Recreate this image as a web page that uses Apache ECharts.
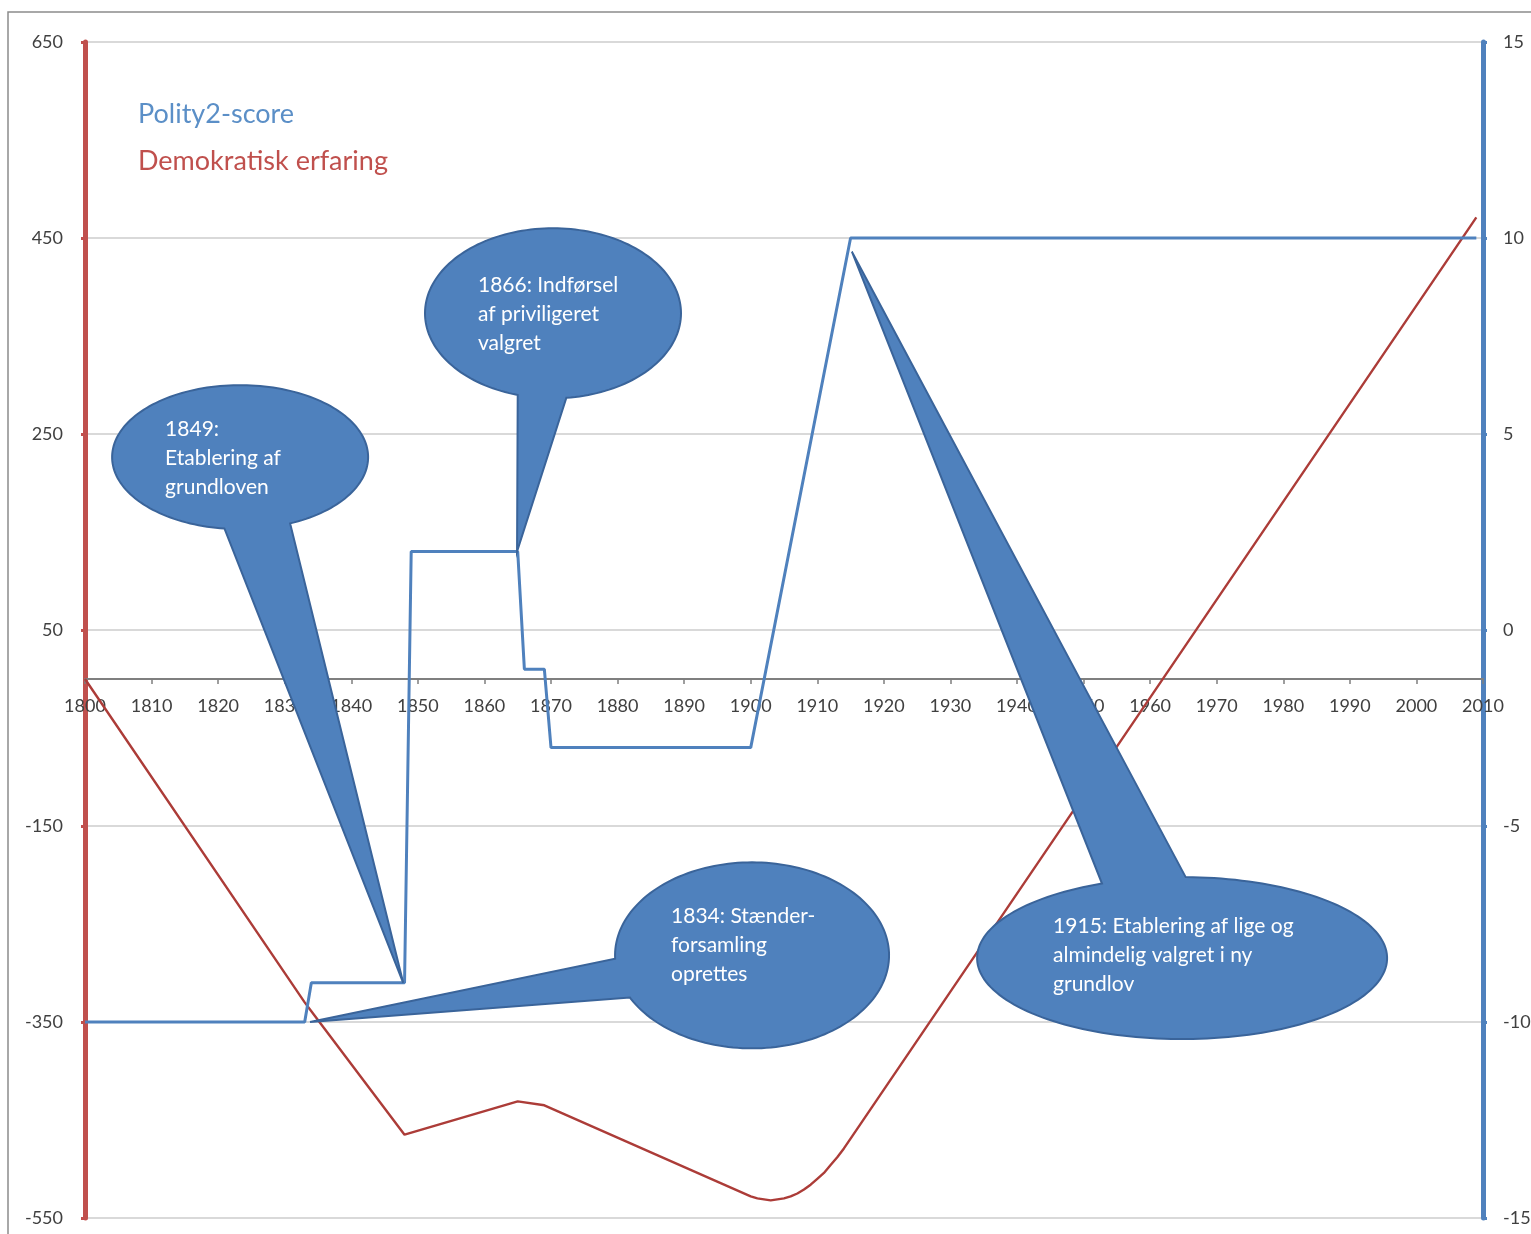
<!DOCTYPE html>
<html>
<head>
<meta charset="utf-8">
<script src="https://cdn.jsdelivr.net/npm/echarts@6/dist/echarts.min.js"></script>
<style>
html,body{margin:0;padding:0;background:#fff;}
#chart{width:1531px;height:1234px;}
</style>
</head>
<body>
<div id="chart"></div>
<script>
// ---- data ----
const xTickLabels = [1800,1810,1820,1830,1840,1850,1860,1870,1880,1890,1900,1910,1920,1930,1940,1950,1960,1970,1980,1990,2000,2010];
const leftTicks = [-550,-350,-150,50,250,450,650];
const rightTicks = [-15,-10,-5,0,5,10,15];

const polityYears = [1800,1833,1834,1848,1849,1865,1866,1869,1870,1900,1915,2009];
const polityScore = [-10,-10,-9,-9,2,2,-1,-1,-3,-3,10,10];

const expYears  = [1800,1833,1834,1848,1865,1869,1900,1901,1902,1903,1904,1905,1906,1907,1908,1909,1910,1911,1912,1913,1914,1915,2009];
const expValues = [0,-330,-339,-465,-431,-435,-528,-530,-531,-532,-531,-530,-528,-525,-521,-516,-510,-504,-496,-488,-479,-469,471];

const seriesNames = ['Polity2-score','Demokratisk erfaring'];

// callouts: centre & tip in (year, polity score) coordinates
const calloutTexts = [
  ['1849:','Etablering af','grundloven'],
  ['1866: Indførsel','af priviligeret','valgret'],
  ['1834: Stænder-','forsamling','oprettes'],
  ['1915: Etablering af lige og','almindelig valgret i ny','grundlov']
];
const calloutCentres = [[1823.3,4.41],[1870.3,8.08],[1900.2,-8.3],[1964.8,-8.37]];
const calloutTips = [[1847.8,-9.0],[1864.9,2.0],[1833.8,-10.0],[1915.2,9.65]];

const polityData = polityYears.map((y,i)=>[y,polityScore[i]]);
const expData = expYears.map((y,i)=>[y,expValues[i]]);

const BLUE = '#4F81BD', RED = '#C0504D';
const FONT = 'Lato, "Open Sans", sans-serif';

const GRID_TOP = 42, GRID_BOTTOM = 16, H = 1234;
const gridH = H - GRID_TOP - GRID_BOTTOM;
const yMin = leftTicks[0], yMax = leftTicks[leftTicks.length-1];
const xAxisOffset = -gridH * (0 - yMin) / (yMax - yMin);

const chart = echarts.init(document.getElementById('chart'));
chart.setOption({
  animation:false,
  backgroundColor:'#fff',
  grid:{left:85,right:48,top:GRID_TOP,bottom:GRID_BOTTOM,containLabel:false,outerBoundsMode:'none'},
  legend:{
    orient:'vertical', left:128, top:96, itemGap:20,
    icon:'rect', itemWidth:0, itemHeight:0, selectedMode:false,
    textStyle:{fontSize:27,fontFamily:FONT},
    data:[
      {name:seriesNames[0],textStyle:{color:'#5B8FC7'}},
      {name:seriesNames[1],textStyle:{color:RED}}
    ]
  },
  xAxis:{
    type:'value', min:1800, max:2010, interval:10, position:'bottom', offset:xAxisOffset,
    axisLine:{show:true,onZero:false,lineStyle:{color:'#7f7f7f',width:2}},
    axisTick:{show:true,length:5,lineStyle:{color:'#7f7f7f',width:1.5}},
    axisLabel:{margin:18,fontSize:18,color:'#404040',fontFamily:FONT,
      formatter:v=>xTickLabels.indexOf(v)>=0?String(v):''},
    splitLine:{show:false}
  },
  yAxis:[
    {type:'value', min:yMin, max:yMax, interval:200, position:'left',
     axisLine:{show:true,onZero:false,lineStyle:{color:RED,width:5}},
     axisTick:{show:true,length:4,lineStyle:{color:RED,width:3}},
     axisLabel:{margin:22,fontSize:18,color:'#404040',fontFamily:FONT},
     splitLine:{show:true,lineStyle:{color:'#d9d9d9',width:2}}},
    {type:'value', min:rightTicks[0], max:rightTicks[rightTicks.length-1], interval:5, position:'right',
     axisLine:{show:true,onZero:false,lineStyle:{color:BLUE,width:5}},
     axisTick:{show:true,length:4,lineStyle:{color:BLUE,width:3}},
     axisLabel:{margin:20,fontSize:18,color:'#404040',fontFamily:FONT},
     splitLine:{show:false}}
  ],
  series:[
    {name:seriesNames[0],type:'line',yAxisIndex:1,data:polityData,showSymbol:false,
     lineStyle:{color:BLUE,width:3},itemStyle:{color:BLUE},z:3},
    {name:seriesNames[1],type:'line',yAxisIndex:0,data:expData,showSymbol:false,
     lineStyle:{color:'#AC3C38',width:2.4},itemStyle:{color:RED},z:2}
  ]
});

// ---- callout shapes (ellipse + wedge) ----
const calloutRadii = [[128,72],[128,85],[137,93],[205,81]];
const calloutWedges = [[67,97],[84,106],[153,178],[247,271]];
const calloutTextOffsets = [[-75,-42],[-75,-43],[-81,-54],[-129,-46]];

function toPx(p){ return chart.convertToPixel({xAxisIndex:0,yAxisIndex:1},p); }
const graphics = [{
  type:'rect', shape:{x:8,y:12,width:1700,height:1400},
  style:{fill:'none',stroke:'#8c8c8c',lineWidth:1.5}, z:0, silent:true
}];
calloutTexts.forEach((lines,i)=>{
  const c = toPx(calloutCentres[i]);
  const t = toPx(calloutTips[i]);
  const [rx,ry] = calloutRadii[i];
  const [a1,a2] = calloutWedges[i];
  const pts = [];
  for(let a=a2; a<a1+360; a+=2){
    const r=a*Math.PI/180; pts.push([c[0]+rx*Math.cos(r), c[1]+ry*Math.sin(r)]);
  }
  const r1=(a1+360)*Math.PI/180; pts.push([c[0]+rx*Math.cos(r1), c[1]+ry*Math.sin(r1)]);
  pts.push(t);
  graphics.push({type:'polygon', shape:{points:pts},
    style:{fill:BLUE,stroke:'#3A649A',lineWidth:2}, z:100, silent:true});
  graphics.push({type:'text', x:c[0]+calloutTextOffsets[i][0], y:c[1]+calloutTextOffsets[i][1],
    style:{text:lines.join('\n'),fill:'#ffffff',font:'21px '+FONT,lineHeight:29,
      align:'left',verticalAlign:'top'}, z:101, silent:true});
});
chart.setOption({graphic:graphics});
</script>
</body>
</html>
